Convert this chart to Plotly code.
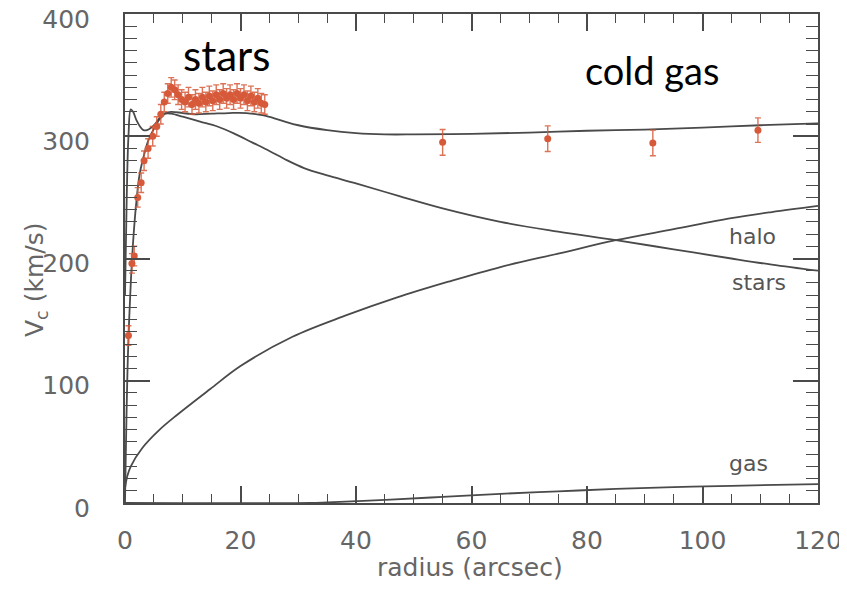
import plotly.graph_objects as go

# ---- observed data (red points with error bars) ----
obs_x = [0.6, 1.2, 1.6, 2.2, 2.8, 3.3, 4.0, 4.8, 5.5, 6.2, 6.8, 7.4, 8.0, 8.6, 9.2, 9.8,
         10.4, 11.0, 11.6, 12.2, 12.8, 13.4, 14.0, 14.6, 15.2, 15.8, 16.4, 17.0, 17.6,
         18.2, 18.8, 19.4, 20.0, 20.6, 21.2, 21.8, 22.4, 23.0, 23.6, 24.2,
         55.0, 73.2, 91.4, 109.6]
obs_v = [137, 196, 202, 250, 262, 280, 290, 300, 308, 318, 328, 335, 340, 338, 334, 330,
         328, 332, 326, 330, 327, 332, 328, 333, 329, 334, 330, 335, 331,
         334, 330, 335, 331, 334, 329, 333, 328, 331, 327, 326,
         295, 298, 294.5, 305]
obs_err = [8] * 40 + [10.5, 10.5, 10.5, 10]

# ---- model curves ----
tot_x = [0, 0.3, 0.6, 1.0, 1.4, 2.0, 2.6, 3.2, 3.8, 4.5, 5.2, 6.0, 7.0, 8.0, 10, 12, 15, 18,
         21, 24, 27, 30, 35, 40, 45, 50, 60, 70, 80, 90, 100, 110, 120]
tot_v = [170, 250, 300, 322, 320, 313, 308, 305, 305, 307, 310, 315, 319, 320, 319, 318,
         318.5, 319, 319, 317, 313, 309, 305, 302.5, 301.5, 301.5, 302, 303, 304.5, 305.5,
         307, 309, 310.5]

stars_x = [0, 0.5, 1.0, 1.5, 2.0, 2.5, 3.2, 4.0, 5.0, 6.0, 7.0, 8.0, 10, 13, 16, 19, 22,
           25, 28, 31, 35, 40, 47.5, 55, 65, 75, 85, 95, 105, 112, 120]
stars_v = [0, 120, 180, 220, 248, 268, 283, 296, 306, 314, 318.5, 318.5, 316, 312, 308, 302,
           295, 288, 280.5, 274, 268, 261.5, 251, 241, 230, 222, 215, 207.5, 200, 195, 190]

halo_x = [0, 0.4, 1, 3, 6, 9, 14.7, 20, 29, 38, 47, 56, 65, 75, 85, 95, 105, 112, 120]
halo_v = [12, 22, 30, 45, 60, 72, 93, 112, 136, 153, 168, 181, 193, 204, 215, 224, 233,
          238, 243]

gas_x = [0, 32, 35, 40, 46, 55, 65, 75, 85, 95, 105, 120]
gas_v = [0, 0, 0.5, 1.5, 2.8, 5, 7.5, 9.5, 11.5, 13, 14, 15.5]

x_ticks = [0, 20, 40, 60, 80, 100, 120]
y_ticks = [0, 100, 200, 300, 400]

LINE = "#4a4a4a"
RED = "#d65a3a"
GREY = "#666666"
TICKFONT = dict(family="DejaVu Sans", size=25, color=GREY)

fig = go.Figure()
for xs, vs in [(tot_x, tot_v), (stars_x, stars_v), (halo_x, halo_v), (gas_x, gas_v)]:
    fig.add_trace(go.Scatter(x=xs, y=vs, mode="lines",
                             line=dict(color=LINE, width=1.8, shape="spline", smoothing=1.0),
                             showlegend=False, hoverinfo="skip"))

fig.add_trace(go.Scatter(x=obs_x, y=obs_v, mode="markers",
                         marker=dict(color=RED, size=7),
                         error_y=dict(type="data", array=obs_err, color="rgba(214,90,58,0.85)",
                                      thickness=1.4, width=3),
                         showlegend=False))

fig.update_xaxes(range=[0, 120], tickvals=x_ticks, ticks="inside", ticklen=17, tickwidth=1.5,
                 tickcolor=LINE, showline=True, linecolor=LINE, linewidth=2, mirror="ticks",
                 showgrid=False, zeroline=False, tickfont=TICKFONT, ticklabelstandoff=14,
                 automargin=False, ticklabeloverflow="allow",
                 minor=dict(ticks="inside", ticklen=9, dtick=5, tickcolor=LINE, tickwidth=1.3,
                            showgrid=False))
fig.update_yaxes(range=[-0.01, 400.01], tickvals=y_ticks, ticks="inside", ticklen=25,
                 tickwidth=1.5, tickcolor=LINE, showline=True, linecolor=LINE, linewidth=2,
                 mirror="ticks", showgrid=False, zeroline=False, tickfont=TICKFONT,
                 ticklabelstandoff=28, ticklabelshift=5, automargin=False,
                 ticklabeloverflow="allow",
                 minor=dict(ticks="inside", ticklen=12, dtick=10, tickcolor=LINE, tickwidth=1.3,
                            showgrid=False))

def note(x, y, text, ref, font, angle=0):
    return dict(x=x, y=y, text=text, xref=ref[0], yref=ref[1], showarrow=False,
                xanchor="center", yanchor="middle", textangle=angle, font=font)

LBL = dict(family="DejaVu Sans", size=22, color="#555555")
BIG = dict(family="Lato", size=38, color="black")
ann = [
    note(108.7, 217.6, "halo", ("x", "y"), LBL),
    note(109.8, 180, "stars", ("x", "y"), LBL),
    note(107.9, 32.7, "gas", ("x", "y"), LBL),
    note((226 - 125) / 693, (503 - 55) / 489, "stars", ("paper", "paper"),
         dict(family="Lato", size=42, color="black")),
    note((652 - 125) / 693, (503 - 70) / 489, "cold gas", ("paper", "paper"), BIG),
    note((470 - 125) / 693, (503 - 567) / 489, "radius (arcsec)", ("paper", "paper"),
         dict(family="DejaVu Sans", size=25, color=GREY)),
    note((36 - 125) / 693, (503 - 280) / 489, "V<sub>c</sub> (km/s)", ("paper", "paper"),
         dict(family="DejaVu Sans", size=25, color=GREY), angle=-90),
]

# the page body adds an 8px offset, so the figure is drawn 8px smaller and shifted
fig.update_layout(width=839, height=581, margin=dict(l=117, r=29, t=6, b=86),
                  plot_bgcolor="white", paper_bgcolor="white", annotations=ann)

fig.write_html("out.html")
